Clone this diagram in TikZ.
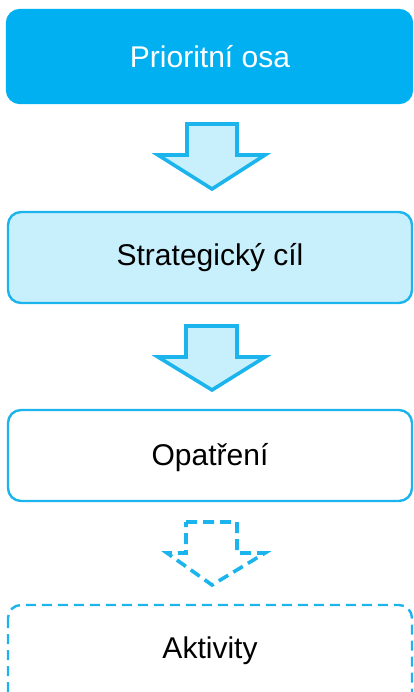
\documentclass[tikz,border=0pt]{standalone}
\usepackage{fontspec}
\setmainfont{Liberation Sans}
\definecolor{cyanmain}{HTML}{00B0F0}
\definecolor{cyanline}{HTML}{1CB4EC}
\definecolor{cyanlight}{HTML}{C8EFFC}
\begin{document}
\begin{tikzpicture}[x=1pt,y=-1pt,
  boxbase/.style={rounded corners=13pt, line width=2.4pt, draw=cyanline},
  lbl/.style={font=\fontsize{30}{35}\selectfont, inner sep=0pt},
  arrowshape/.style={line width=3.6pt, draw=cyanline, fill=cyanlight, line join=miter},
  dasharrow/.style={line width=3.6pt, draw=cyanline, dash pattern=on 11pt off 6pt, line join=miter}]
\useasboundingbox (0,0) rectangle (413,692);
\begin{scope}
\clip (0,0) rectangle (413,692);
% boxes
\draw[boxbase, fill=cyanmain, draw=cyanmain] (7,10) rectangle (412,103);
\node[lbl, text=white] (prio) at (210,57) {Prioritní osa};
\draw[boxbase, fill=cyanlight] (8,212) rectangle (412,303);
\node[lbl] (strat) at (210,258) {Strategický cíl};
\draw[boxbase] (8,410) rectangle (412,501);
\node[lbl] (opat) at (210,458) {Opatření};
\draw[boxbase, dash pattern=on 10pt off 6pt] (8,605) rectangle (412,710);
\node[lbl] (akt) at (210,651) {Aktivity};
% arrows
\draw[arrowshape] (187,124) -- (237,124) -- (237,155) -- (265,155) -- (212,189) -- (158,155) -- (187,155) -- cycle;
\draw[arrowshape] (186,326) -- (237,326) -- (237,357) -- (265,357) -- (212,390) -- (158,357) -- (186,357) -- cycle;
\draw[dasharrow] (186,522) -- (237,522) -- (237,553) -- (265,553) -- (212,585) -- (167,553) -- (186,553) -- cycle;
\end{scope}
\end{tikzpicture}
\end{document}
